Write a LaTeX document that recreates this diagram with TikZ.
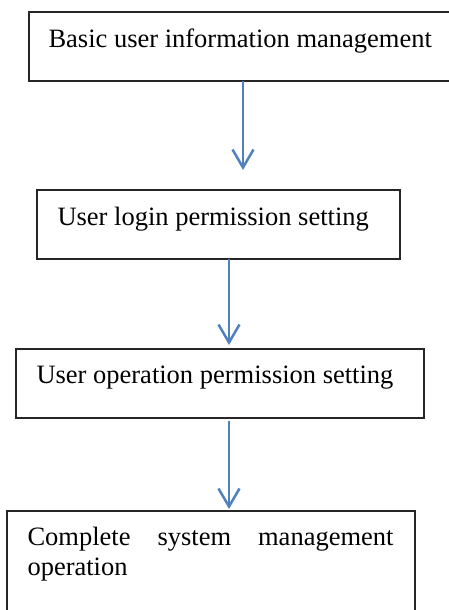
\documentclass[tikz,border=0pt]{standalone}
\usepackage{fontspec}
\setmainfont{Liberation Serif}
\usetikzlibrary{arrows.meta}
\definecolor{flowblue}{HTML}{4F81BD}
\begin{document}
\begin{tikzpicture}[x=1pt,y=-1pt,
  stagebox/.style={draw=black!85,line width=1.2pt,rectangle,inner sep=0pt,outer sep=0pt},
  label/.style={inner sep=0pt,outer sep=0pt,anchor=base west,font=\fontsize{26.5}{30}\selectfont},
  flow/.style={draw=flowblue,line width=2.5pt,-{Straight Barb[length=18pt,width=21pt,line width=2.5pt]}}]
\useasboundingbox (0,0) rectangle (449,610);
\clip (0,0) rectangle (449,610);
% stage boxes
\node[stagebox,minimum width=423pt,minimum height=69pt] (b1) at (240.5,46.5) {};
\node[stagebox,minimum width=363pt,minimum height=69pt] (b2) at (218.5,224.5) {};
\node[stagebox,minimum width=408pt,minimum height=69pt] (b3) at (220,383.5) {};
\node[stagebox,minimum width=408pt,minimum height=140pt] (b4) at (211,581) {};
% stage texts
\node[label] (t1) at (48.5,48) {Basic user information management};
\node[label] (t2) at (57.5,225) {User login permission setting};
\node[label] (t3) at (36.5,383) {User operation permission setting};
\node[label,text width=366pt,align=justify] (t4) at (27.5,545)
  {\hyphenpenalty=10000 Complete system management\linebreak operation};
% arrow end points
\coordinate (e1) at (243,170);
\coordinate (e2) at (229,345);
\coordinate (s3) at (229,421);
\coordinate (e3) at (229,509);
\draw[flow] (b1.south -| e1) -- (e1);
\draw[flow] (b2.south -| e2) -- (e2);
\draw[flow] (s3) -- (e3);
\end{tikzpicture}
\end{document}
